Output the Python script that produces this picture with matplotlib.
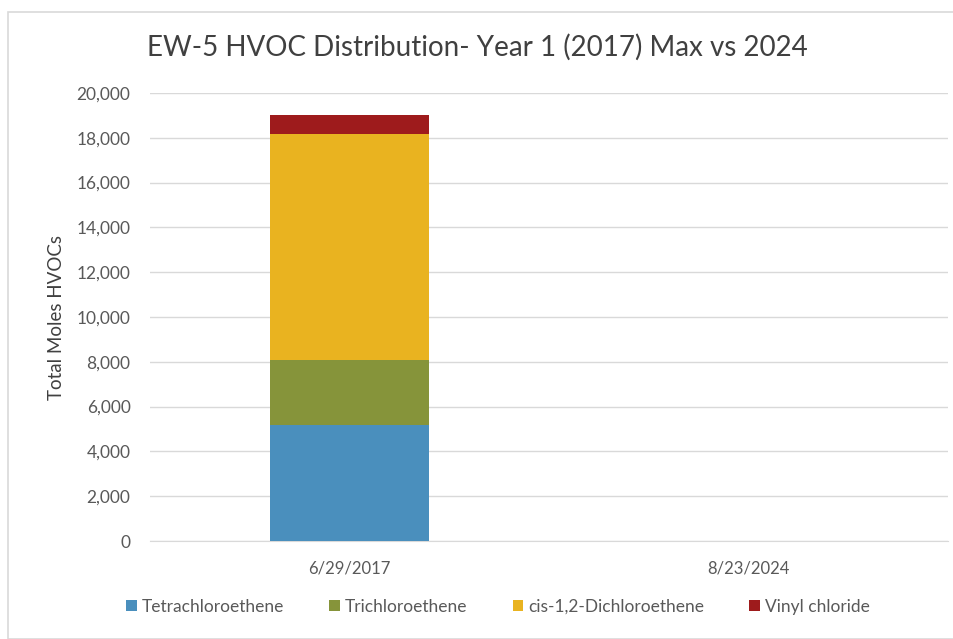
import matplotlib
matplotlib.use("Agg")
import matplotlib.pyplot as plt
from matplotlib.patches import Rectangle
import numpy as np

categories = ["6/29/2017", "8/23/2024"]
series_names = ["Tetrachloroethene", "Trichloroethene", "cis-1,2-Dichloroethene", "Vinyl chloride"]
pce = [5200, 0]
tce = [2900, 0]
dce = [10080, 0]
vc = [820, 0]
colors = ["#4a8fbd", "#86943a", "#e9b320", "#9e1b1c"]
yticks = [0, 2000, 4000, 6000, 8000, 10000, 12000, 14000, 16000, 18000, 20000]

plt.rcParams['font.family'] = ['Lato', 'DejaVu Sans']

fig = plt.figure(figsize=(9.54, 6.39), dpi=100)
fig.patches.append(Rectangle((8/954, 0.0), 1.2, 1 - 12/639, transform=fig.transFigure,
                             fill=False, edgecolor="#d9d9d9", linewidth=1.2))
ax = fig.add_axes([150/954, 1 - 541/639, (948 - 150)/954, (541 - 93)/639])

x = np.arange(len(categories))
bottom = np.zeros(len(categories))
for vals, name, c in zip([pce, tce, dce, vc], series_names, colors):
    ax.bar(x, vals, width=0.4, bottom=bottom, color=c, label=name, zorder=3)
    bottom += np.array(vals)

ax.set_xlim(-0.5, 1.5)
ax.set_ylim(0, 20000)
ax.set_yticks(yticks)
ax.set_yticklabels([f"{v:,}" for v in yticks])
ax.set_xticks(x)
ax.set_xticklabels(categories)
ax.grid(axis='y', color="#d9d9d9", linewidth=1, zorder=0)
for s in ["top", "right", "left"]:
    ax.spines[s].set_visible(False)
ax.spines["bottom"].set_color("#d9d9d9")
ax.tick_params(axis='y', length=0, labelsize=12.5, labelcolor="#595959", pad=14)
ax.tick_params(axis='x', length=0, labelsize=12, labelcolor="#595959", pad=14)
ax.set_ylabel("Total Moles HVOCs", fontsize=13.5, color="#404040", labelpad=8)

fig.text(0.5, 1 - 47/639, "EW-5 HVOC Distribution- Year 1 (2017) Max vs 2024",
         ha="center", va="center", fontsize=20, color="#404040")

leg = fig.legend(loc="center", bbox_to_anchor=(0.522, 1 - 607/639), ncol=4, frameon=False,
                 fontsize=12.5, handlelength=0.6, handleheight=0.6, handletextpad=0.3,
                 columnspacing=2.6)
for t in leg.get_texts():
    t.set_color("#595959")

fig.savefig("out.png", dpi=100)
